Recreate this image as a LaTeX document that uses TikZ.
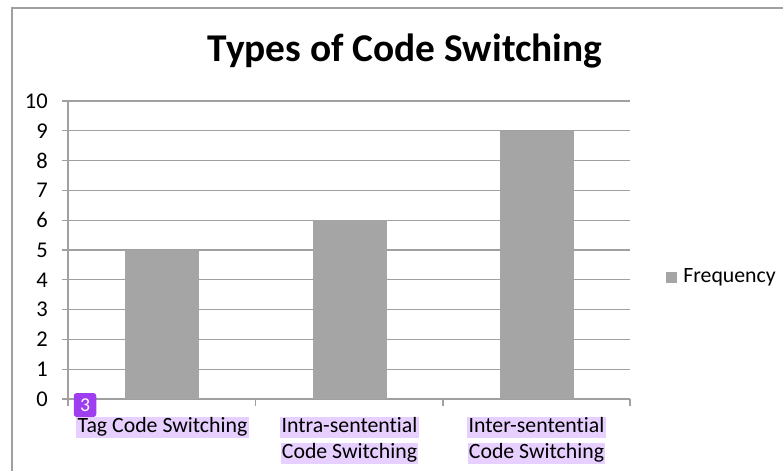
\documentclass[tikz,border=0pt]{standalone}
\usepackage{fontspec}
\setmainfont{Carlito}[Ligatures=NoCommon]
\definecolor{bargray}{RGB}{165,165,165}
\definecolor{gridgray}{RGB}{160,160,160}
\definecolor{marklilac}{RGB}{231,208,255}
\definecolor{badgepurple}{RGB}{158,62,240}
\usetikzlibrary{positioning}

\begin{document}
\begin{tikzpicture}[
  x=0.025cm, y=-0.025cm,
  grid/.style={draw=gridgray, line width=0.9pt},
  bar/.style={fill=bargray, draw=none},
  ticklbl/.style={font=\fontsize{16}{19}\selectfont, anchor=east, inner sep=0pt},
  catlbl/.style={font=\fontsize{15.5}{18}\selectfont, fill=marklilac, inner xsep=1pt, inner ysep=0.5pt,
    text height=11pt, text depth=3.5pt},
  badge/.style={fill=badgepurple, text=white, rounded corners=2pt, minimum width=16pt,
    minimum height=17pt, inner sep=0pt, font=\fontsize{14}{16}\selectfont}
]
\useasboundingbox (0,0) rectangle (783,471);
\draw[draw=gridgray, line width=1.1pt] (12,471) |- (783,8);

% title
\node[font=\bfseries\fontsize{28}{33}\selectfont] (title) at (405,51) {Types of Code Switching};

% grid and value axis
\foreach \v in {0,...,10} {
  \draw[grid] (62,{399-29.8*\v}) -- (630,{399-29.8*\v});
  \node[ticklbl] (y\v) at (48,{399-29.8*\v}) {\v};
}
\draw[grid] (68,101) -- (68,406);
\foreach \t in {255.5,443,630}
  \draw[grid] (\t,399) -- (\t,406);

% bars
\foreach \c/\h [count=\i] in {162/5,349.5/6,536.5/9}
  \fill[bar] ({\c-37},399) rectangle ({\c+37},{399-29.8*\h}) coordinate (bar\i);

% category labels
\node[catlbl] (cat1) at (162.5,427.5) {Tag Code Switching};
\node[catlbl] (cat2a) at (349.5,427.5) {Intra-sentential};
\node[catlbl] (cat2b) at (349.5,453.5) {Code Switching};
\node[catlbl] (cat3a) at (536.5,427.5) {Inter-sentential};
\node[catlbl] (cat3b) at (536.5,453.5) {Code Switching};
\node[badge] (mark) at (85,405) {3};

% legend
\node[fill=bargray, minimum size=8pt, inner sep=0pt] (key) at (671.5,277.5) {};
\node[font=\fontsize{15.5}{18}\selectfont, anchor=west, inner sep=0pt, right=4pt of key] (keylbl) {Frequency};
\end{tikzpicture}
\end{document}
